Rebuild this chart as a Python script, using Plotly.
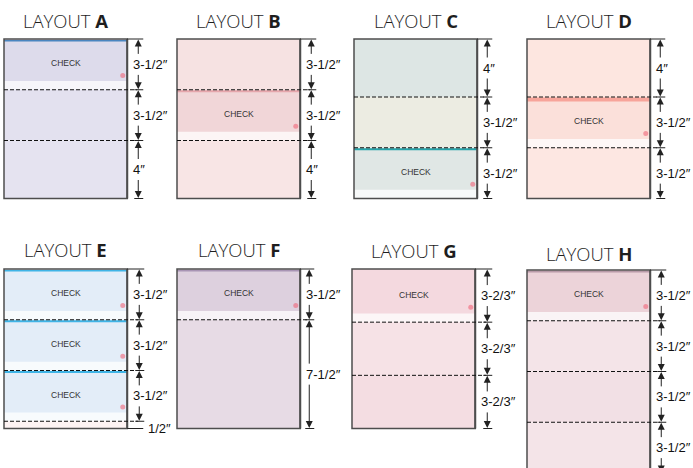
import plotly.graph_objects as go

# ---------------- data ----------------
LAYOUT_NAMES = ["A", "B", "C", "D", "E", "F", "G", "H"]
SECTION_INCHES = [
    [3.5, 3.5, 4],
    [3.5, 3.5, 4],
    [4, 3.5, 3.5],
    [4, 3.5, 3.5],
    [3.5, 3.5, 3.5, 0.5],
    [3.5, 7.5],
    [3.667, 3.667, 3.667],
    [3.5, 3.5, 3.5, 3.5],
]
SECTION_LABELS = [
    ["3-1/2″", "3-1/2″", "4″"],
    ["3-1/2″", "3-1/2″", "4″"],
    ["4″", "3-1/2″", "3-1/2″"],
    ["4″", "3-1/2″", "3-1/2″"],
    ["3-1/2″", "3-1/2″", "3-1/2″", "1/2″"],
    ["3-1/2″", "7-1/2″"],
    ["3-2/3″", "3-2/3″", "3-2/3″"],
    ["3-1/2″", "3-1/2″", "3-1/2″", "3-1/2″"],
]
CHECK_SECTIONS = [[0], [1], [2], [1], [0, 1, 2], [0], [0], [0]]
CHECK_TEXT = "CHECK"
PAGE_WIDTH_IN = 8.5

# ---------------- styles / positions ----------------
PPI = 14.5
ORIGINS = [(4, 39), (177, 39), (354, 39), (527, 39),
           (4, 269), (177, 269), (352, 269), (527, 270)]
TITLE_Y = [20, 20, 20, 20, 249, 249, 250, 253]
DIM_OFF = [11, 11, 10, 10, 12, 9, 12, 11]
SECTION_FILLS = [
    ["#dddbeb", "#e3e1ef", "#e5e3f0"],
    ["#f6e2e2", "#f1d6d8", "#f8e5e5"],
    ["#dde6e4", "#ecece2", "#e0e7e5"],
    ["#fde6e0", "#fbe0da", "#fde7e2"],
    ["#e3edf8", "#e3edf8", "#e3edf8", "#fdf3f3"],
    ["#ddd0de", "#e7dbe5"],
    ["#f4d9df", "#f6e2e6", "#f4dde2"],
    ["#ecd3d9", "#f4e4e8", "#f2e0e5", "#f4e4e8"],
]
CHECK_TOPLINE = ["#4a86c0", "#e6a6ac", "#26a4aa", "#f7a49a",
                 "#3fb4e6", "#a894b4", None, "#b89aa8"]
TOPLINE_W = [2, 2, 2, 4, 2, 2, 0, 2]
BORDER = "#4d4d4d"
TXT_FONT = "Liberation Sans, Arial, sans-serif"

fig = go.Figure()
shapes = []
annos = []

for i, name in enumerate(LAYOUT_NAMES):
    x0, y0 = ORIGINS[i]
    secs = SECTION_INCHES[i]
    labels = SECTION_LABELS[i]
    pw = PAGE_WIDTH_IN * PPI
    x1 = x0 + pw
    total = sum(secs)
    ybot = y0 + total * PPI
    dimx = x1 + DIM_OFF[i]

    # title
    annos.append(dict(x=x0 + pw / 2, y=TITLE_Y[i], xref="x", yref="y",
                      text=f"LAYOUT <b>{name}</b>", showarrow=False,
                      font=dict(family="Open Sans, Lato, sans-serif", size=18.5,
                                color="#1e1e1e", weight=300),
                      xanchor="center", yanchor="middle"))

    # section backgrounds
    bounds = [y0]
    for s in secs:
        bounds.append(bounds[-1] + s * PPI)
    for k, s in enumerate(secs):
        t, b = bounds[k], bounds[k + 1]
        shapes.append(dict(type="rect", xref="x", yref="y", x0=x0, x1=x1, y0=t, y1=b,
                           fillcolor=SECTION_FILLS[i][k], line=dict(width=0), layer="below"))
        if k in CHECK_SECTIONS[i]:
            # light stub band
            shapes.append(dict(type="rect", xref="x", yref="y", x0=x0, x1=x1,
                               y0=b - 0.6 * PPI, y1=b,
                               fillcolor="rgba(255,255,255,0.75)", line=dict(width=0),
                               layer="below"))
            if CHECK_TOPLINE[i]:
                shapes.append(dict(type="rect", xref="x", yref="y", x0=x0, x1=x1,
                                   y0=t + (1 if k == 0 else 0.5),
                                   y1=t + 0.5 + TOPLINE_W[i],
                                   fillcolor=CHECK_TOPLINE[i], line=dict(width=0),
                                   layer="below"))
            # red seal dot
            cy = t + 0.72 * (b - t)
            shapes.append(dict(type="circle", xref="x", yref="y",
                               x0=x1 - 7, x1=x1 - 2, y0=cy - 2.5, y1=cy + 2.5,
                               fillcolor="rgba(240,100,120,0.6)", line=dict(width=0)))
            annos.append(dict(x=x0 + pw / 2, y=(t + b) / 2 - 1, xref="x", yref="y",
                              text=CHECK_TEXT, showarrow=False,
                              font=dict(family=TXT_FONT, size=8.5, color="#333333")))

    # page border
    shapes.append(dict(type="rect", xref="x", yref="y", x0=x0, x1=x1, y0=y0, y1=ybot,
                       fillcolor="rgba(0,0,0,0)", line=dict(color=BORDER, width=1.5)))
    shapes.append(dict(type="line", xref="x", yref="y", x0=x1, x1=x1, y0=y0, y1=ybot,
                       line=dict(color=BORDER, width=2)))

    # perforations
    for k in range(1, len(secs)):
        yy = bounds[k]
        shapes.append(dict(type="line", xref="x", yref="y", x0=x0, x1=dimx - 1,
                           y0=yy, y1=yy, line=dict(color="#111111", width=1, dash="4px,2px")))

    # top extension line
    shapes.append(dict(type="line", xref="x", yref="y", x0=x1, x1=dimx + 5,
                       y0=y0, y1=y0, line=dict(color="#222222", width=1)))

    # dimension arrows
    for k, s in enumerate(secs):
        t, b = bounds[k], bounds[k + 1]
        if s < 1:
            shapes.append(dict(type="line", xref="x", yref="y", x0=x1, x1=x1 + 16,
                               y0=b, y1=b, line=dict(color="#222222", width=1)))
            annos.append(dict(x=x1 + 19, y=b, xref="x", yref="y", text=labels[k],
                              showarrow=False, xanchor="left", yanchor="middle",
                              font=dict(family=TXT_FONT, size=13, color="#111111")))
            continue
        c = (t + b) / 2
        h = 9
        for head, tail in ((t + 0.5, c - h), (b - 0.5, c + h)):
            annos.append(dict(x=dimx, y=head, ax=dimx, ay=tail, xref="x", yref="y",
                              axref="x", ayref="y", text="", showarrow=True,
                              arrowhead=2, arrowsize=1.4, arrowwidth=1,
                              arrowcolor="#222222", standoff=0))
        shapes.append(dict(type="line", xref="x", yref="y", x0=dimx - 4, x1=dimx + 5,
                           y0=b, y1=b, line=dict(color="#222222", width=1)))
        annos.append(dict(x=x1 + 3.5, y=c, xref="x", yref="y", text=labels[k],
                          showarrow=False, xanchor="left", yanchor="middle",
                          font=dict(family=TXT_FONT, size=13, color="#111111")))

fig.update_layout(
    width=693, height=468,
    margin=dict(l=0, r=0, t=0, b=0),
    paper_bgcolor="white", plot_bgcolor="white",
    xaxis=dict(range=[0, 693], visible=False, fixedrange=True),
    yaxis=dict(range=[468, 0], visible=False, fixedrange=True),
    shapes=shapes, annotations=annos, showlegend=False,
)
fig.write_html("out.html", config={"displayModeBar": False},
               post_script="document.body.style.margin='0';document.body.style.overflow='hidden';")
